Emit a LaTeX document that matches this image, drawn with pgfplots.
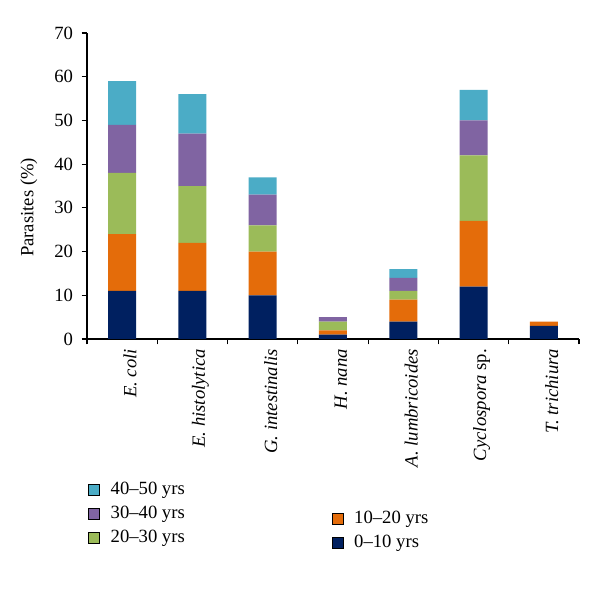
\documentclass[border=0pt]{standalone}
\usepackage{fontspec}
\setmainfont{Liberation Serif}
\usepackage{pgfplots}
\pgfplotsset{compat=1.18}
\definecolor{cA}{RGB}{0,32,96}
\definecolor{cB}{RGB}{228,108,10}
\definecolor{cC}{RGB}{155,187,89}
\definecolor{cD}{RGB}{128,100,162}
\definecolor{cE}{RGB}{75,172,198}
\newcommand{\fs}{\fontsize{14}{16}\selectfont}
\pgfplotsset{
  sqlegend/.style={legend image code/.code={\fill[##1] (0pt,-4.1pt) rectangle (8.25pt,4.1pt);}},
  mylegend/.style={legend cell align=left, legend style={draw=none, fill=none, inner sep=0pt, outer sep=0pt, font=\fs,
    nodes={inner sep=0pt, text height=10pt, text depth=3pt}, row sep=5pt, column sep=8pt}},
}
\begin{document}
\begin{tikzpicture}
\useasboundingbox (-65.25pt,-195pt) rectangle (384.75pt,254.25pt);
\begin{axis}[
  at={(0,0)}, anchor=south west,
  scale only axis, width=369pt, height=229.5pt,
  ybar stacked, bar width=21pt,
  xmin=-0.5, xmax=6.5, ymin=0, ymax=70,
  ytick={0,10,...,70},
  xtick={0,...,6},
  xticklabels={{\itshape E. coli},{\itshape E. histolytica},{\itshape G. intestinalis},{\itshape H. nana},{\itshape A. lumbricoides},{\itshape Cyclospora} sp.,{\itshape T. trichiura}},
  minor xtick={-0.5,0.5,...,6.5},
  axis lines*=left, axis line style={-, black, line width=0.8pt},
  tick align=outside,
  major x tick style={draw=none},
  minor tick length=4pt, major tick length=4pt,
  every tick/.style={black, line width=0.8pt},
  /pgf/number format/assume math mode=true,
  tick label style={font=\fs},
  yticklabel style={xshift=-3pt},
  xticklabel style={rotate=90, anchor=east, yshift=-6pt},
  ylabel={Parasites (\%)},
  ylabel style={font=\fs, at={(axis description cs:-0.118,0.43)}, anchor=center},
  sqlegend, mylegend,
  legend style={at={(axis description cs:0.003,-0.465)}, anchor=north west},
]
\addplot[fill=cA, draw=none, forget plot] coordinates {(0,11) (1,11) (2,10) (3,1) (4,4) (5,12) (6,3)};
\addplot[fill=cB, draw=none, forget plot] coordinates {(0,13) (1,11) (2,10) (3,1) (4,5) (5,15) (6,1)};
\addplot[fill=cC, draw=none, forget plot] coordinates {(0,14) (1,13) (2,6) (3,2) (4,2) (5,15) (6,0)};
\addplot[fill=cD, draw=none, forget plot] coordinates {(0,11) (1,12) (2,7) (3,1) (4,3) (5,8) (6,0)};
\addplot[fill=cE, draw=none, forget plot] coordinates {(0,10) (1,9) (2,4) (3,0) (4,2) (5,7) (6,0)};
\addlegendimage{fill=cE}
\addlegendentry{40--50 yrs}
\addlegendimage{fill=cD}
\addlegendentry{30--40 yrs}
\addlegendimage{fill=cC}
\addlegendentry{20--30 yrs}
\end{axis}
\begin{axis}[
  at={(0,0)}, anchor=south west,
  scale only axis, width=369pt, height=229.5pt,
  hide axis, xmin=0, xmax=1, ymin=0, ymax=1,
  sqlegend, mylegend,
  legend style={at={(axis description cs:0.498,-0.56)}, anchor=north west},
]
\addlegendimage{fill=cB}
\addlegendentry{10--20 yrs}
\addlegendimage{fill=cA}
\addlegendentry{0--10 yrs}
\end{axis}
\end{tikzpicture}
\end{document}
